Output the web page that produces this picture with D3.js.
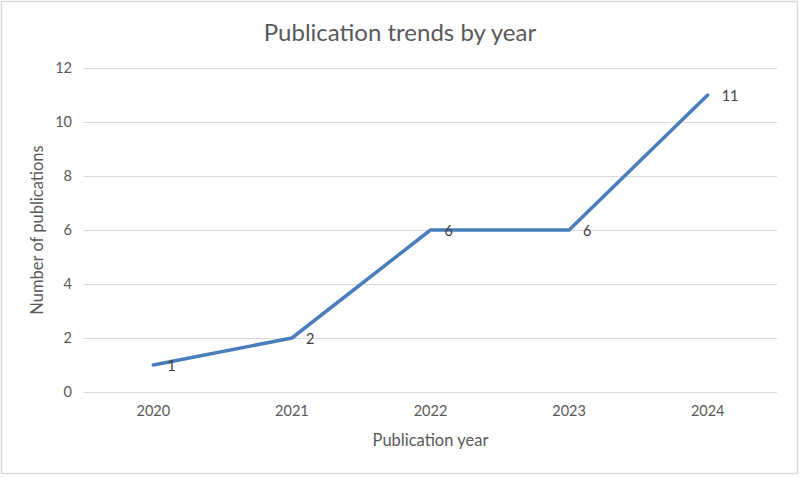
<!DOCTYPE html>
<html><head><meta charset="utf-8">
<script src="https://cdn.jsdelivr.net/npm/d3@7"></script>
<style>body{margin:0;background:#fff;} svg{display:block;font-family:Lato, "Open Sans", sans-serif;}</style>
</head><body>
<svg id="c" width="800" height="477"></svg>
<script>
const years = ["2020","2021","2022","2023","2024"];
const publications = [1, 2, 6, 6, 11];
const yTicks = [0, 2, 4, 6, 8, 10, 12];
const title = "Publication trends by year";
const xTitle = "Publication year";
const yTitle = "Number of publications";

const W = 800, H = 477;
const m = {left: 84, right: 23, top: 68, bottom: 85};
const svg = d3.select("#c");
svg.append("rect").attr("x",1.5).attr("y",1.5).attr("width",W-4).attr("height",H-5)
  .attr("fill","#fff").attr("stroke","#d9d9d9").attr("stroke-width",1.5);

const x = d3.scaleBand().domain(years).range([m.left, W - m.right]);
const y = d3.scaleLinear().domain([0, 12]).range([H - m.bottom, m.top]);
const txt = "#595959";

// grid
svg.append("g").selectAll("line").data(yTicks).join("line")
  .attr("x1", m.left).attr("x2", W - m.right)
  .attr("y1", d => Math.round(y(d)) + 0.5).attr("y2", d => Math.round(y(d)) + 0.5)
  .attr("stroke", "#d9d9d9").attr("stroke-width", 1);

// y axis
const ya = svg.append("g").attr("transform", `translate(${m.left},0)`)
  .call(d3.axisLeft(y).tickValues(yTicks).tickSize(0).tickPadding(12));
ya.select(".domain").remove();
ya.selectAll("text").attr("fill", txt).style("font-size", "14.5px").style("font-family","Lato, sans-serif");

// x axis
const xa = svg.append("g").attr("transform", `translate(0,${y(0)})`)
  .call(d3.axisBottom(x).tickSize(0).tickPadding(14));
xa.select(".domain").remove();
xa.selectAll("text").attr("fill", txt).style("font-size", "14.5px").style("font-family","Lato, sans-serif");

// line
const line = d3.line().x((d, i) => x(years[i]) + x.bandwidth() / 2).y(d => y(d));
svg.append("path").datum(publications).attr("d", line)
  .attr("fill", "none").attr("stroke", "#4a7ebb").attr("stroke-width", 3.5)
  .attr("stroke-linejoin", "round").attr("stroke-linecap", "round");

// data labels
svg.append("g").selectAll("text").data(publications).join("text")
  .attr("x", (d, i) => x(years[i]) + x.bandwidth() / 2 + 14)
  .attr("y", d => y(d) + 6)
  .attr("fill", "#404040").style("font-size", "14.5px")
  .text(d => d);

// titles
svg.append("text").attr("x", 400).attr("y", 41).attr("text-anchor", "middle")
  .attr("fill", txt).style("font-size", "24px").text(title);
svg.append("text").attr("x", (m.left + W - m.right) / 2).attr("y", 446).attr("text-anchor", "middle")
  .attr("fill", txt).style("font-size", "16.5px").text(xTitle);
svg.append("text").attr("transform", `translate(43,${(y(0)+y(12))/2}) rotate(-90)`).attr("text-anchor", "middle")
  .attr("fill", txt).style("font-size", "16.5px").text(yTitle);
</script>
</body></html>
